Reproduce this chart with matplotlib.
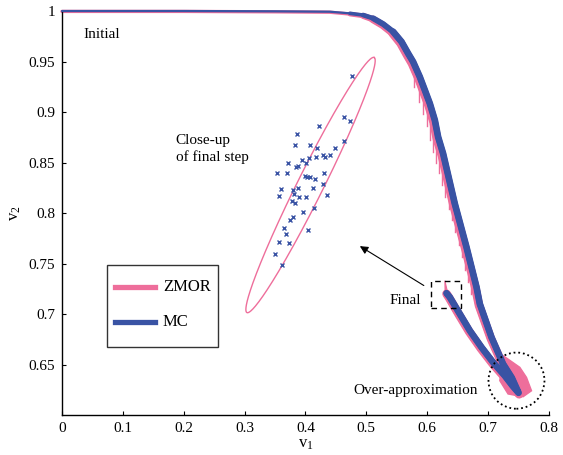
import numpy as np
import matplotlib
matplotlib.use("Agg")
import matplotlib.pyplot as plt
from matplotlib.patches import Ellipse, Polygon, Rectangle
from matplotlib.lines import Line2D

plt.rcParams['font.family'] = ['Liberation Serif', 'DejaVu Serif']
plt.rcParams['mathtext.fontset'] = 'custom'
plt.rcParams['mathtext.rm'] = 'Liberation Serif'
plt.rcParams['mathtext.it'] = 'Liberation Serif'

# ---------------- data ----------------
# Monte Carlo trajectory (outer branch down to the tip, then back along inner branch)
mc_v1 = [0.0, 0.20, 0.35, 0.4401, 0.4729, 0.4947, 0.5112, 0.5276, 0.5440, 0.5578,
         0.5686, 0.5768, 0.5878, 0.5961, 0.6043, 0.6125, 0.6179, 0.6261, 0.6453,
         0.6645, 0.6810, 0.6864, 0.7056, 0.7246, 0.7389, 0.7500,
         0.7400, 0.7274, 0.7082, 0.6892, 0.6700, 0.6535, 0.6371, 0.6317]
mc_v2 = [1.0, 1.0, 0.9997, 0.9993, 0.9977, 0.9960, 0.9928, 0.9871, 0.9795, 0.9695,
         0.9580, 0.9497, 0.9348, 0.9216, 0.9084, 0.8919, 0.8753, 0.8588, 0.8092,
         0.7662, 0.7265, 0.7100, 0.6769, 0.6505, 0.6369, 0.6220,
         0.6290, 0.6389, 0.6521, 0.6670, 0.6835, 0.7001, 0.7166, 0.7206]

# ZMOR reachable-set trajectory (over-approximation)
zm_v1 = [0.0, 0.20, 0.35, 0.4401, 0.4729, 0.4947, 0.5105, 0.5266, 0.5428, 0.5563,
         0.5668, 0.5750, 0.5858, 0.5940, 0.6022, 0.6104, 0.6158, 0.6240, 0.6432,
         0.6626, 0.6794, 0.6850, 0.7046, 0.7240, 0.7385, 0.7510,
         0.7395, 0.7265, 0.7072, 0.6880, 0.6688, 0.6522, 0.6360, 0.6317]
zm_v2 = [0.9996, 0.9996, 0.9992, 0.9988, 0.9970, 0.9952, 0.9918, 0.9860, 0.9782, 0.9680,
         0.9565, 0.9480, 0.9330, 0.9198, 0.9066, 0.8900, 0.8735, 0.8570, 0.8075,
         0.7645, 0.7250, 0.7085, 0.6755, 0.6495, 0.6360, 0.6205,
         0.6280, 0.6378, 0.6510, 0.6660, 0.6826, 0.6992, 0.7160, 0.7200]

# ZMOR boxes spreading near the end of the horizon
zm_tip_v1 = [0.7246, 0.7521, 0.7631, 0.7713, 0.7575, 0.7328, 0.7192]
zm_tip_v2 = [0.6588, 0.6472, 0.6372, 0.6240, 0.6181, 0.6208, 0.6340]

# ZMOR sliver at the final step
zm_end_v1 = [0.6290, 0.6295, 0.6345]
zm_end_v2 = [0.7330, 0.7170, 0.7185]

# ZMOR step boxes visible on the outer branch
hatch_v1 = [0.579, 0.586, 0.593, 0.599, 0.605, 0.610, 0.615, 0.620, 0.625, 0.630,
            0.635, 0.640, 0.646, 0.652, 0.657, 0.662, 0.667, 0.672]
hatch_top = [0.936, 0.924, 0.913, 0.902, 0.888, 0.875, 0.865, 0.854, 0.841, 0.828,
             0.815, 0.803, 0.790, 0.776, 0.764, 0.752, 0.740, 0.728]
hatch_bot = [0.925, 0.910, 0.898, 0.886, 0.872, 0.860, 0.850, 0.840, 0.828, 0.816,
             0.804, 0.793, 0.781, 0.768, 0.756, 0.744, 0.732, 0.720]

# close-up of final step: ZMOR ellipse and MC samples
ell_center = (0.4083, 0.8277)
ell_major = (0.1045, 0.1263)
ell_minor = (0.0191, -0.00575)

mc_final_v1 = [0.477, 0.423, 0.464, 0.473, 0.386, 0.383, 0.407, 0.419, 0.449, 0.463,
               0.372, 0.384, 0.387, 0.395, 0.401, 0.406, 0.418, 0.429, 0.432, 0.441,
               0.354, 0.369, 0.399, 0.403, 0.408, 0.415, 0.430, 0.359, 0.356, 0.380,
               0.388, 0.381, 0.390, 0.401, 0.412, 0.429, 0.435, 0.378, 0.382, 0.414,
               0.396, 0.374, 0.379, 0.365, 0.368, 0.404, 0.356, 0.373, 0.350, 0.362]
mc_final_v2 = [0.936, 0.886, 0.895, 0.891, 0.878, 0.867, 0.867, 0.864, 0.864, 0.871,
               0.850, 0.846, 0.847, 0.852, 0.850, 0.854, 0.855, 0.857, 0.855, 0.857,
               0.840, 0.840, 0.837, 0.836, 0.836, 0.834, 0.840, 0.824, 0.817, 0.823,
               0.825, 0.819, 0.816, 0.816, 0.825, 0.829, 0.818, 0.812, 0.810, 0.805,
               0.801, 0.793, 0.796, 0.785, 0.779, 0.783, 0.771, 0.770, 0.759, 0.749]

x_ticks = [0, 0.1, 0.2, 0.3, 0.4, 0.5, 0.6, 0.7, 0.8]
x_tick_labels = ["0", "0.1", "0.2", "0.3", "0.4", "0.5", "0.6", "0.7", "0.8"]
y_ticks = [0.65, 0.7, 0.75, 0.8, 0.85, 0.9, 0.95, 1.0]
y_tick_labels = ["0.65", "0.7", "0.75", "0.8", "0.85", "0.9", "0.95", "1"]

series_names = ['ZMOR', 'MC']

PINK = '#EE6E9B'
BLUE = '#3953A4'

# ---------------- figure ----------------
fig = plt.figure(figsize=(5.63, 4.55), dpi=100)
ax = fig.add_axes([0.1101, 0.0879, 0.8650, 0.8879])
ax.set_xlim(0, 0.8)
ax.set_ylim(0.6, 1.0)


def tapered(x, y, widths, color, z):
    """Draw the path several times, thicker where the trajectory bundle spreads."""
    x = np.asarray(x); y = np.asarray(y)
    for thr, lw in widths:
        i0 = np.where(x >= thr)[0][0]
        ax.plot(x[i0:], y[i0:], color=color, lw=lw, solid_capstyle='round',
                solid_joinstyle='round', zorder=z, clip_on=False)


# ZMOR
ax.add_patch(Polygon(np.column_stack([zm_tip_v1, zm_tip_v2]), closed=True,
                     facecolor=PINK, edgecolor=PINK, lw=1, zorder=2))
ax.add_patch(Polygon(np.column_stack([zm_end_v1, zm_end_v2]), closed=True,
                     facecolor=PINK, edgecolor=PINK, lw=0.8, zorder=2))
for xv, t, b in zip(hatch_v1, hatch_top, hatch_bot):
    ax.plot([xv, xv], [b, t], color=PINK, lw=1.0, zorder=2)
tapered(zm_v1, zm_v2, [(0.0, 2.4), (0.47, 3.4), (0.49, 4.4), (0.51, 5.4), (0.53, 6.2)],
        PINK, 2)
# MC
tapered(mc_v1, mc_v2, [(0.0, 1.6), (0.47, 2.6), (0.49, 3.4), (0.51, 4.2), (0.53, 4.8)],
        BLUE, 3)

# close-up ellipse and MC samples of final step
t = np.linspace(0, 2 * np.pi, 400)
ex = ell_center[0] + ell_major[0] * np.cos(t) + ell_minor[0] * np.sin(t)
ey = ell_center[1] + ell_major[1] * np.cos(t) + ell_minor[1] * np.sin(t)
ax.plot(ex, ey, color=PINK, lw=1.0, zorder=2)
ax.plot(mc_final_v1, mc_final_v2, ls='none', marker='x', ms=3.2, mew=1.0,
        color=BLUE, zorder=3)

# annotations
ax.add_patch(Rectangle((0.607, 0.706), 0.048, 0.027, fill=False, edgecolor='black',
                       lw=1.0, ls=(0, (4, 3)), zorder=4))
ax.add_patch(Ellipse((0.7466, 0.634), 0.092, 0.0556, fill=False, edgecolor='black',
                     lw=1.3, ls=(0, (1, 1.6)), zorder=4, clip_on=False))
ax.annotate('', xy=(0.4893, 0.7672), xytext=(0.5944, 0.7282),
            arrowprops=dict(arrowstyle='-|>', color='black', lw=0.8,
                            mutation_scale=12, shrinkA=0, shrinkB=0))

ax.text(0.035, 0.977, 'Initial', fontsize=11, ha='left', va='center')
ax.text(0.187, 0.8636, 'Close-up\nof final step', fontsize=11, ha='left', va='center',
        linespacing=1.25)
ax.text(0.5906, 0.7133, 'Final', fontsize=11, ha='right', va='center')
ax.text(0.683, 0.624, 'Over-approximation', fontsize=11, ha='right', va='center')

# legend (drawn by hand in axes coordinates)
ax.add_patch(Rectangle((0.0918, 0.1691), 0.3203 - 0.0918, 0.3713 - 0.1691,
                       transform=ax.transAxes, fill=True, facecolor='white',
                       edgecolor='#333333', lw=1.0, zorder=5))
for name, col, yy in zip(series_names, [PINK, BLUE], [0.3168, 0.2302]):
    ax.add_line(Line2D([0.1088, 0.1910], [yy, yy], transform=ax.transAxes,
                       color=col, lw=3.8, zorder=6))
    ax.text(0.2074, yy, name, transform=ax.transAxes, fontsize=12,
            ha='left', va='center', zorder=6)

# axes styling
for s in ['top', 'right']:
    ax.spines[s].set_visible(False)
for s in ['left', 'bottom']:
    ax.spines[s].set_linewidth(1.0)
ax.set_xticks(x_ticks)
ax.set_xticklabels(x_tick_labels)
ax.set_yticks(y_ticks)
ax.set_yticklabels(y_tick_labels)
ax.tick_params(direction='in', length=3, width=0.8, labelsize=11, pad=5)
ax.set_xlabel(r'$\mathrm{v}_1$', fontsize=12, labelpad=1)
ax.set_ylabel(r'$\mathrm{v}_2$', fontsize=12, labelpad=4)

fig.savefig('out.png', dpi=100)
